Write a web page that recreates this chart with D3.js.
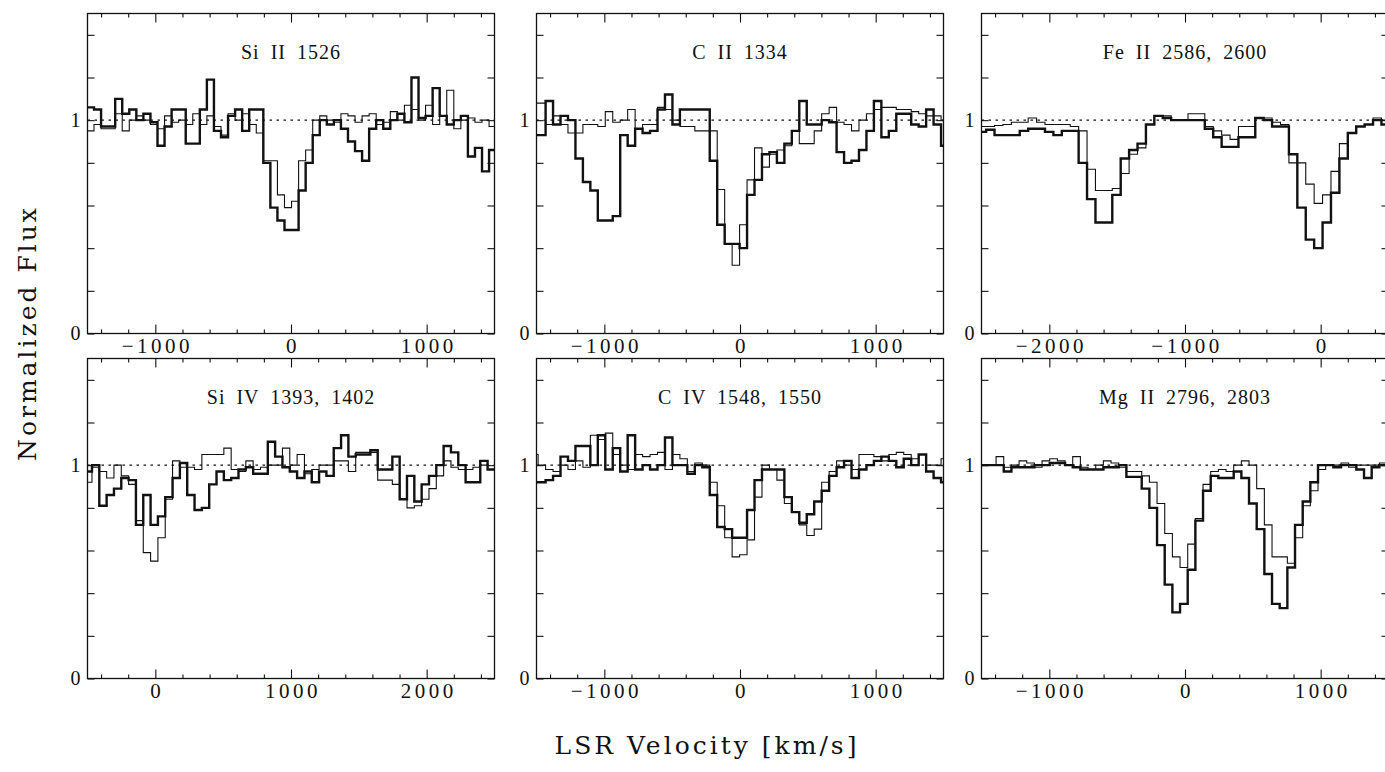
<!DOCTYPE html>
<html>
<head>
<meta charset="utf-8">
<script src="https://cdn.jsdelivr.net/npm/d3@7"></script>
<style>
  body { margin: 0; background: #fff; }
  svg text { font-family: "Liberation Serif", serif; fill: #111; }
</style>
</head>
<body>
<svg id="chart" width="1385" height="772"></svg>
<script>
// flux per velocity bin (thick = first line of the pair, thin = second)
const siII_thick = [1.06,1.05,0.97,0.97,1.10,1.03,1.05,1.00,1.03,0.99,0.88,0.97,1.05,1.05,0.89,0.89,1.05,1.19,0.95,0.92,1.02,1.05,0.95,1.05,1.05,0.80,0.59,0.53,0.485,0.485,0.67,0.80,0.93,1.00,0.98,1.00,0.96,0.90,0.855,0.81,0.96,1.00,0.96,1.00,1.03,0.99,1.20,1.01,1.02,1.15,1.02,0.98,1.00,1.02,0.83,0.87,0.76,0.86];
const siII_thin = [0.95,0.98,0.96,0.96,1.03,0.95,1.00,1.02,1.00,0.98,0.96,1.02,0.99,1.00,0.98,1.03,0.98,1.02,0.97,0.93,1.03,1.00,1.03,0.98,0.94,0.81,0.81,0.65,0.59,0.62,0.81,0.86,1.00,1.02,1.00,0.99,1.03,1.02,0.99,1.02,1.03,0.98,0.99,1.04,1.00,1.07,1.05,1.00,1.07,0.98,1.02,1.14,0.96,1.00,1.01,0.99,1.00,0.97];

const cII_thick = [0.93,0.93,1.09,0.98,1.02,1.00,0.82,0.71,0.67,0.53,0.53,0.55,0.93,0.88,0.96,0.94,0.95,1.05,1.12,0.98,1.05,1.05,1.05,1.05,0.81,0.51,0.42,0.42,0.40,0.65,0.72,0.84,0.85,0.80,0.89,0.95,1.09,0.98,0.98,1.00,0.99,0.85,0.80,0.81,0.86,0.95,1.09,0.92,0.95,1.03,1.03,0.98,0.97,1.05,0.98,0.88];
const cII_thin = [1.08,1.08,0.98,1.02,0.98,0.94,0.94,0.98,0.98,0.97,1.04,0.99,1.00,1.05,0.96,0.98,0.98,1.06,1.05,1.00,0.97,0.97,0.95,0.95,0.95,0.675,0.42,0.32,0.51,0.72,0.87,0.78,0.84,0.86,0.88,0.95,0.89,0.89,0.95,1.03,1.06,0.99,0.98,0.95,1.00,1.03,1.05,1.06,1.06,1.05,1.05,1.04,1.03,1.02,1.02,1.00];

const feII_thick = [0.945,0.955,0.93,0.93,0.93,0.95,0.96,0.96,0.945,0.93,0.95,0.95,0.80,0.63,0.52,0.52,0.65,0.82,0.86,0.89,0.98,1.02,1.01,1.00,1.00,1.00,1.00,0.96,0.92,0.875,0.875,0.92,0.92,1.01,1.00,0.97,0.97,0.84,0.59,0.44,0.40,0.52,0.66,0.82,0.94,0.97,0.98,1.00,0.98];
const feII_thin = [0.97,0.97,0.975,0.98,0.99,0.99,1.01,0.99,0.98,0.98,0.98,0.97,0.95,0.77,0.67,0.67,0.68,0.75,0.84,0.87,0.98,1.02,1.02,1.00,1.00,1.03,1.03,0.97,0.95,0.93,0.91,0.97,0.97,1.01,1.01,0.99,0.98,0.80,0.80,0.70,0.61,0.65,0.76,0.89,0.94,0.97,0.98,1.01,1.00];

const siIV_thick = [0.97,1.00,0.81,0.86,0.89,0.94,0.93,0.72,0.86,0.72,0.76,0.85,0.94,1.01,0.86,0.79,0.80,0.91,0.97,0.93,0.94,0.98,0.99,0.96,0.96,1.11,1.04,0.99,0.97,0.94,0.97,0.92,0.97,0.95,1.08,1.14,1.04,1.05,1.05,1.07,0.98,0.98,1.04,0.84,0.95,0.83,0.91,0.95,1.00,1.09,1.06,1.00,0.92,0.92,1.02,0.98];
const siIV_thin = [0.92,0.99,0.97,0.94,1.00,0.95,0.91,0.74,0.59,0.55,0.66,0.84,1.02,0.99,0.99,0.98,1.05,1.05,1.05,1.08,0.98,0.97,1.02,0.98,0.99,1.00,1.00,1.08,1.00,1.05,0.96,0.98,1.00,1.00,1.02,1.02,0.97,1.06,1.06,1.06,0.93,0.93,0.91,0.84,0.80,0.81,0.84,0.89,0.95,1.02,0.99,0.98,0.98,0.99,1.00,0.98];

const cIV_thick = [0.92,0.92,0.93,0.95,1.04,1.02,1.09,1.09,1.00,1.14,0.98,1.08,0.97,1.14,0.98,1.00,0.98,1.00,1.13,1.00,1.00,0.96,1.00,0.99,0.86,0.71,0.70,0.66,0.66,0.79,0.93,0.98,0.98,0.98,0.85,0.78,0.73,0.77,0.83,0.88,0.95,0.99,1.02,0.94,0.98,1.00,1.02,1.04,1.02,0.99,1.03,1.00,1.05,0.97,0.94,0.92];
const cIV_thin = [1.05,1.00,0.98,0.97,1.00,0.98,1.02,0.99,1.14,1.12,1.15,1.05,1.00,0.98,1.05,1.04,1.05,1.06,0.98,1.05,1.03,0.97,1.01,1.00,0.92,0.81,0.66,0.57,0.58,0.65,0.85,1.00,0.98,0.93,0.82,0.78,0.72,0.67,0.70,0.92,0.97,1.02,1.00,0.98,1.05,1.05,1.04,1.02,1.05,1.06,1.05,1.03,1.05,1.00,1.00,1.03];

const mgII_thick = [1.00,1.00,1.00,0.97,0.99,0.99,0.99,1.00,1.00,1.01,1.01,1.00,0.99,0.98,0.98,0.98,0.99,0.99,1.00,0.945,0.945,0.89,0.80,0.625,0.44,0.31,0.35,0.51,0.74,0.88,0.95,0.94,0.94,0.97,0.94,0.82,0.70,0.49,0.35,0.33,0.52,0.72,0.83,0.92,1.00,1.00,0.99,1.00,1.00,0.98,0.94,0.99,1.00];
const mgII_thin = [1.00,1.00,1.04,0.99,1.00,1.02,1.01,0.99,1.02,1.03,1.02,1.00,1.04,0.99,0.98,1.00,1.02,1.01,0.99,0.97,0.97,0.95,0.92,0.82,0.68,0.57,0.52,0.63,0.75,0.91,0.97,0.98,0.97,1.00,1.02,1.00,0.89,0.72,0.57,0.57,0.54,0.66,0.81,0.88,0.98,1.00,1.00,1.01,0.99,1.00,1.00,1.00,1.01];

const titles = ['Si II 1526', 'C II 1334', 'Fe II 2586, 2600', 'Si IV 1393, 1402', 'C IV 1548, 1550', 'Mg II 2796, 2803'];
const xDomains = [[-1500, 1500], [-1500, 1500], [-2500, 500], [-500, 2500], [-1500, 1500], [-1500, 1500]];
// velocity of the first bin edge and bin width (km/s) for each panel
const binStart = [-1504, -1543, -2528, -521, -1543, -1505.5];
const binWidth = [52, 55, 62, 54, 55, 56.5];
const thickFlux = [siII_thick, cII_thick, feII_thick, siIV_thick, cIV_thick, mgII_thick];
const thinFlux = [siII_thin, cII_thin, feII_thin, siIV_thin, cIV_thin, mgII_thin];
const yTicks = [0, 0.2, 0.4, 0.6, 0.8, 1, 1.2, 1.4];
const yLabels = {0: '0', 1: '1'};

const svg = d3.select('#chart');
const colLeft = [87.5, 536.5, 981.5];
const rowTop = [13.5, 358.5];
const panelW = 407, panelH = 320;

function steps(flux, v0, dv) {
    const pts = flux.map((f, k) => [v0 + k * dv, f]);
    pts.push([v0 + flux.length * dv, flux[flux.length - 1]]);
    return pts;
}

function styleAxis(g) {
    g.select('.domain').remove();
    g.selectAll('line').attr('stroke', '#111').attr('stroke-width', 1.1);
    g.selectAll('text')
        .attr('font-family', '"Liberation Serif", serif')
        .attr('font-size', 20)
        .attr('fill', '#111');
}

titles.forEach((title, i) => {
    const col = i % 3, row = Math.floor(i / 3);
    const g = svg.append('g').attr('transform', `translate(${colLeft[col]},${rowTop[row]})`);

    const x = d3.scaleLinear().domain(xDomains[i]).range([0, panelW]);
    const y = d3.scaleLinear().domain([0, 1.5]).range([panelH, 0]);

    const [d0, d1] = xDomains[i];
    const major = d3.range(Math.ceil(d0 / 1000) * 1000, d1 + 1, 1000);
    const minor = d3.range(Math.ceil(d0 / 200) * 200, d1 + 1, 200).filter(v => v % 1000 !== 0);

    // ticks on all four sides, pointing inwards
    g.append('g').attr('transform', `translate(0,${panelH})`)
        .call(d3.axisBottom(x).tickValues(minor).tickSize(-4).tickFormat('')).call(styleAxis);
    g.append('g').attr('transform', `translate(0,${panelH})`)
        .call(d3.axisBottom(x).tickValues(major).tickSize(-9).tickPadding(5).tickFormat(d3.format('d')))
        .call(styleAxis)
        .selectAll('text')
        .attr('font-size', 21)
        .attr('letter-spacing', 3.5)
        .attr('dx', 1.5);
    g.append('g')
        .call(d3.axisTop(x).tickValues(minor).tickSize(-4).tickFormat('')).call(styleAxis);
    g.append('g')
        .call(d3.axisTop(x).tickValues(major).tickSize(-9).tickFormat('')).call(styleAxis);
    g.append('g')
        .call(d3.axisLeft(y).tickValues(yTicks).tickSize(-7).tickPadding(7)
            .tickFormat(d => yLabels[Math.round(d * 10) / 10] || ''))
        .call(styleAxis);
    g.append('g').attr('transform', `translate(${panelW},0)`)
        .call(d3.axisRight(y).tickValues(yTicks).tickSize(-7).tickFormat('')).call(styleAxis);

    // clip for the spectra
    const clipId = 'clip' + i;
    g.append('clipPath').attr('id', clipId)
        .append('rect').attr('width', panelW).attr('height', panelH);

    const line = d3.line()
        .x(d => x(d[0]))
        .y(d => y(d[1]))
        .curve(d3.curveStepAfter);

    const plot = g.append('g').attr('clip-path', `url(#${clipId})`);

    // continuum level
    plot.append('line')
        .attr('x1', 0).attr('x2', panelW)
        .attr('y1', y(1)).attr('y2', y(1))
        .attr('stroke', '#111')
        .attr('stroke-width', 1.1)
        .attr('stroke-dasharray', '2.5,4.5');

    plot.append('path')
        .attr('d', line(steps(thinFlux[i], binStart[i], binWidth[i])))
        .attr('fill', 'none')
        .attr('stroke', '#111')
        .attr('stroke-width', 1.1);

    plot.append('path')
        .attr('d', line(steps(thickFlux[i], binStart[i], binWidth[i])))
        .attr('fill', 'none')
        .attr('stroke', '#111')
        .attr('stroke-width', 2.4);

    // frame
    g.append('rect')
        .attr('width', panelW).attr('height', panelH)
        .attr('fill', 'none')
        .attr('stroke', '#111')
        .attr('stroke-width', 1.3);

    g.append('text')
        .attr('x', panelW / 2)
        .attr('y', 45)
        .attr('text-anchor', 'middle')
        .attr('font-size', 20)
        .attr('letter-spacing', 1)
        .attr('word-spacing', 5)
        .text(title);
});

// axis titles
svg.append('text')
    .attr('transform', 'translate(36,333) rotate(-90)')
    .attr('text-anchor', 'middle')
    .style('font-family', '"DejaVu Serif", serif')
    .attr('font-size', 25)
    .attr('letter-spacing', 3)
    .text('Normalized Flux');

svg.append('text')
    .attr('x', 707)
    .attr('y', 754)
    .attr('text-anchor', 'middle')
    .style('font-family', '"DejaVu Serif", serif')
    .attr('font-size', 25)
    .attr('letter-spacing', 3)
    .text('LSR Velocity [km/s]');
</script>
</body>
</html>
